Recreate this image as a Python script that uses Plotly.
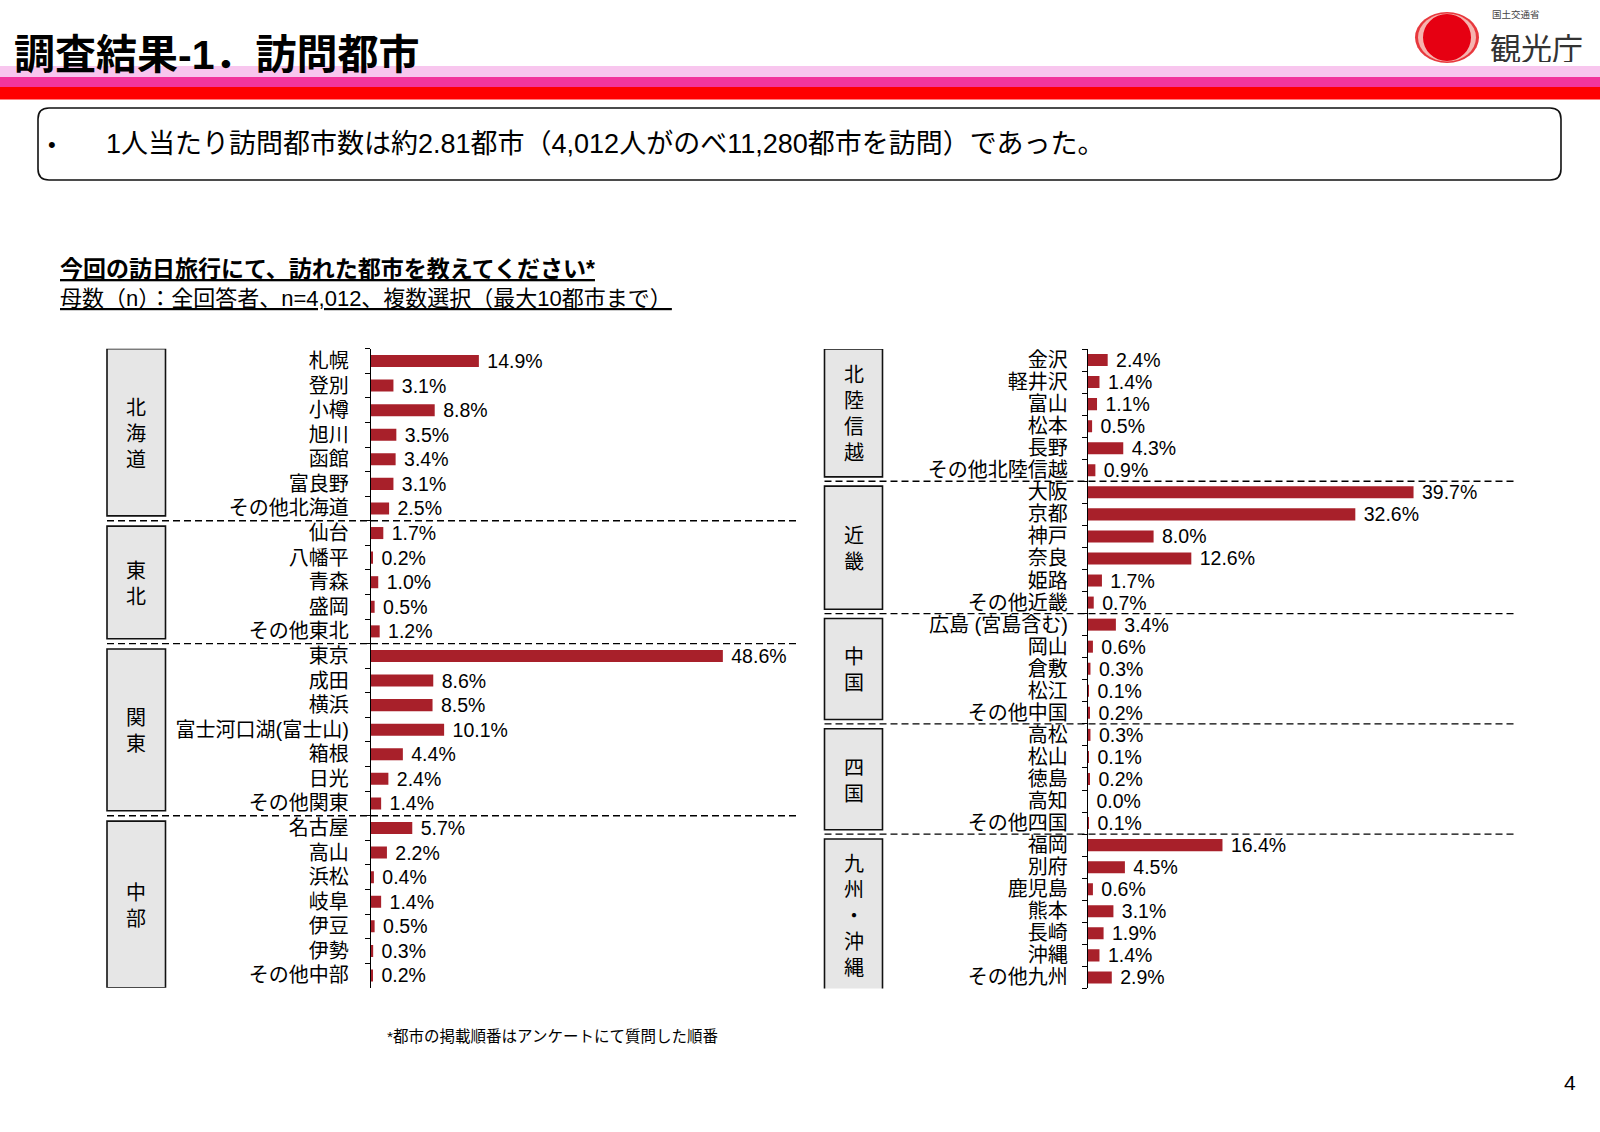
import plotly.graph_objects as go

W, H = 1600, 1132

# ---------------- data ----------------
left_groups = ["北海道", "東北", "関東", "中部"]
left_group_sizes = [7, 5, 7, 7]
left_cities = ["札幌", "登別", "小樽", "旭川", "函館", "富良野", "その他北海道",
               "仙台", "八幡平", "青森", "盛岡", "その他東北",
               "東京", "成田", "横浜", "富士河口湖(富士山)", "箱根", "日光", "その他関東",
               "名古屋", "高山", "浜松", "岐阜", "伊豆", "伊勢", "その他中部"]
left_values = [14.9, 3.1, 8.8, 3.5, 3.4, 3.1, 2.5,
               1.7, 0.2, 1.0, 0.5, 1.2,
               48.6, 8.6, 8.5, 10.1, 4.4, 2.4, 1.4,
               5.7, 2.2, 0.4, 1.4, 0.5, 0.3, 0.2]

right_groups = ["北陸信越", "近畿", "中国", "四国", "九州・沖縄"]
right_group_sizes = [6, 6, 5, 5, 7]
right_cities = ["金沢", "軽井沢", "富山", "松本", "長野", "その他北陸信越",
                "大阪", "京都", "神戸", "奈良", "姫路", "その他近畿",
                "広島 (宮島含む)", "岡山", "倉敷", "松江", "その他中国",
                "高松", "松山", "徳島", "高知", "その他四国",
                "福岡", "別府", "鹿児島", "熊本", "長崎", "沖縄", "その他九州"]
right_values = [2.4, 1.4, 1.1, 0.5, 4.3, 0.9,
                39.7, 32.6, 8.0, 12.6, 1.7, 0.7,
                3.4, 0.6, 0.3, 0.1, 0.2,
                0.3, 0.1, 0.2, 0.0, 0.1,
                16.4, 4.5, 0.6, 3.1, 1.9, 1.4, 2.9]

title_text = "調査結果-1．訪問都市"
summary_text = "1人当たり訪問都市数は約2.81都市（4,012人がのべ11,280都市を訪問）であった。"
question_text = "今回の訪日旅行にて、訪れた都市を教えてください*"
base_text = "母数（n）：全回答者、n=4,012、複数選択（最大10都市まで）"
note_text = "*都市の掲載順番はアンケートにて質問した順番"
page_no = "4"

# ---------------- style ----------------
BAR = "#A8202A"
JP = "Liberation Sans, Noto Sans CJK JP, sans-serif"
JPONLY = "Noto Sans CJK JP, sans-serif"


def px(x):
    return x / W


def py(y):
    return 1 - y / H


fig = go.Figure()

panels = [
    dict(cities=left_cities, values=left_values, groups=left_groups, sizes=left_group_sizes,
         xa="x", ya="y", xdom=(371, 800), scale=7.24, ytop=348.7, rowh=24.58,
         boxx=(107, 165.5), dashx=(107, 799), width=0.49, standoff=17),
    dict(cities=right_cities, values=right_values, groups=right_groups, sizes=right_group_sizes,
         xa="x2", ya="y2", xdom=(1088, 1518), scale=8.2, ytop=349.0, rowh=22.05,
         boxx=(824.5, 882.5), dashx=(824.5, 1517.5), width=0.545, standoff=15),
]

shapes = []
annotations = []
layout_axes = {}

for i, p in enumerate(panels):
    n = len(p["cities"])
    fig.add_trace(go.Bar(
        x=p["values"], y=p["cities"], orientation="h",
        xaxis=p["xa"], yaxis=p["ya"],
        marker=dict(color=BAR, line=dict(width=0)),
        width=p["width"],
        text=["\u00a0" + f"{v:.1f}%" for v in p["values"]],
        textposition="outside", cliponaxis=False, constraintext="none",
        textfont=dict(size=19.5, family=JP, color="black"),
        hoverinfo="skip", showlegend=False,
    ))
    xname = "xaxis" if i == 0 else "xaxis2"
    yname = "yaxis" if i == 0 else "yaxis2"
    x0, x1 = p["xdom"]
    ybot = p["ytop"] + n * p["rowh"]
    layout_axes[xname] = dict(domain=[px(x0), px(x1)], range=[0, (x1 - x0) / p["scale"]],
                              visible=False, anchor=p["ya"], fixedrange=True)
    layout_axes[yname] = dict(domain=[py(ybot), py(p["ytop"])], type="category",
                              categoryorder="array", categoryarray=p["cities"],
                              tickmode="array", tickvals=p["cities"], ticktext=p["cities"],
                              range=[n - 0.5, -0.5], anchor=p["xa"],
                              showline=True, linecolor="black", linewidth=1.3,
                              ticks="outside", tickson="boundaries", ticklen=5,
                              tickcolor="black", tickwidth=1.3,
                              ticklabelstandoff=p["standoff"],
                              tickfont=dict(size=20, family=JP, color="black"),
                              showgrid=False, zeroline=False, fixedrange=True)

    # group boxes, dashed separators and vertical group labels
    start = 0
    ng = len(p["groups"])
    for g, (name, size) in enumerate(zip(p["groups"], p["sizes"])):
        end = start + size - 1
        top_in = 0.0 if g == 0 else 0.22
        bot_in = -0.1 if (g == ng - 1 and i == 1) else (0.0 if g == ng - 1 else 0.2)
        b0 = start - 0.5 + top_in
        b1 = end + 0.5 - bot_in
        shapes.append(dict(type="rect", xref="paper", yref=p["ya"],
                           x0=px(p["boxx"][0]), x1=px(p["boxx"][1]), y0=b0, y1=b1,
                           fillcolor="#E6E6E6", line=dict(color="#111111", width=1.6),
                           layer="below"))
        if g < ng - 1:
            shapes.append(dict(type="line", xref="paper", yref=p["ya"],
                               x0=px(p["dashx"][0]), x1=px(p["dashx"][1]),
                               y0=end + 0.5, y1=end + 0.5,
                               line=dict(color="black", width=1.4, dash="7px,4px")))
        center = (b0 + b1) / 2
        annotations.append(dict(xref="paper", yref=p["ya"],
                                x=px((p["boxx"][0] + p["boxx"][1]) / 2), y=center,
                                text="<br>".join(list(name)), showarrow=False,
                                xanchor="center", yanchor="middle", align="center",
                                font=dict(size=20, family=JPONLY, color="black")))
        start += size

# ---------------- header ----------------
shapes += [
    dict(type="rect", xref="paper", yref="paper", x0=0, x1=1, y0=py(77), y1=py(66),
         fillcolor="#F8C6EE", line=dict(width=0), layer="below"),
    dict(type="rect", xref="paper", yref="paper", x0=0, x1=1, y0=py(87), y1=py(77),
         fillcolor="#F2359C", line=dict(width=0), layer="below"),
    dict(type="rect", xref="paper", yref="paper", x0=0, x1=1, y0=py(99.5), y1=py(87),
         fillcolor="#FF0000", line=dict(width=0), layer="below"),
    # logo
    dict(type="circle", xref="paper", yref="paper", x0=px(1415), x1=px(1479), y0=py(63), y1=py(12),
         fillcolor="#E8383D", line=dict(width=0)),
    dict(type="circle", xref="paper", yref="paper", x0=px(1418), x1=px(1476), y0=py(61.5), y1=py(13.5),
         fillcolor="#F6B3AE", line=dict(width=0)),
    dict(type="circle", xref="paper", yref="paper", x0=px(1423), x1=px(1471), y0=py(61), y1=py(14),
         fillcolor="#E60012", line=dict(width=0)),
]

# summary rounded box
bx0, bx1, by0, by1, r = 38, 1561, 108, 180, 11
pts = [("M", [(bx0 + r, by0)]), ("L", [(bx1 - r, by0)]), ("Q", [(bx1, by0), (bx1, by0 + r)]),
       ("L", [(bx1, by1 - r)]), ("Q", [(bx1, by1), (bx1 - r, by1)]), ("L", [(bx0 + r, by1)]),
       ("Q", [(bx0, by1), (bx0, by1 - r)]), ("L", [(bx0, by0 + r)]), ("Q", [(bx0, by0), (bx0 + r, by0)])]
path = " ".join(c + " " + " ".join(f"{px(a):.5f},{py(b):.5f}" for a, b in q) for c, q in pts) + " Z"
shapes.append(dict(type="path", xref="paper", yref="paper", path=path,
                   line=dict(color="#111111", width=1.6), fillcolor="rgba(0,0,0,0)"))

annotations += [
    dict(xref="paper", yref="paper", x=px(12), y=py(55), text="<b>" + title_text + "</b>",
         showarrow=False, xanchor="left", yanchor="middle",
         font=dict(size=41, family=JP, color="black", weight=900)),
    dict(xref="paper", yref="paper", x=px(1490), y=py(14), text="国土交通省",
         showarrow=False, xanchor="left", yanchor="middle", height=11,
         font=dict(size=9.5, family=JPONLY, color="#444444")),
    dict(xref="paper", yref="paper", x=px(1488), y=py(46.5), text="観光庁",
         showarrow=False, xanchor="left", yanchor="middle", height=32,
         font=dict(size=31, family=JPONLY, color="#333333")),
    dict(xref="paper", yref="paper", x=px(46), y=py(144), text="•",
         showarrow=False, xanchor="left", yanchor="middle",
         font=dict(size=22, family=JP, color="black")),
    dict(xref="paper", yref="paper", x=px(104), y=py(144), text=summary_text,
         showarrow=False, xanchor="left", yanchor="middle",
         font=dict(size=27, family=JP, color="black")),
    dict(xref="paper", yref="paper", x=px(58), y=py(269), text="<u><b>" + question_text + "</b></u>",
         showarrow=False, xanchor="left", yanchor="middle",
         font=dict(size=23, family=JP, color="black")),
    dict(xref="paper", yref="paper", x=px(58), y=py(298), text="<u>" + base_text + "</u>",
         showarrow=False, xanchor="left", yanchor="middle",
         font=dict(size=22, family=JP, color="black")),
    dict(xref="paper", yref="paper", x=px(385), y=py(1036), text=note_text,
         showarrow=False, xanchor="left", yanchor="middle",
         font=dict(size=15.5, family=JP, color="black")),
    dict(xref="paper", yref="paper", x=px(1570), y=py(1082), text=page_no,
         showarrow=False, xanchor="center", yanchor="middle",
         font=dict(size=21, family=JP, color="black")),
]

fig.update_layout(
    width=W, height=H, autosize=False,
    margin=dict(l=0, r=0, t=0, b=0, pad=0),
    paper_bgcolor="white", plot_bgcolor="rgba(0,0,0,0)",
    shapes=shapes, annotations=annotations, showlegend=False,
    font=dict(family=JP, color="black"),
    **layout_axes,
)

fig.write_html("out.html", config={"displayModeBar": False},
               post_script="document.body.style.margin='0';document.body.style.overflow='hidden';")
